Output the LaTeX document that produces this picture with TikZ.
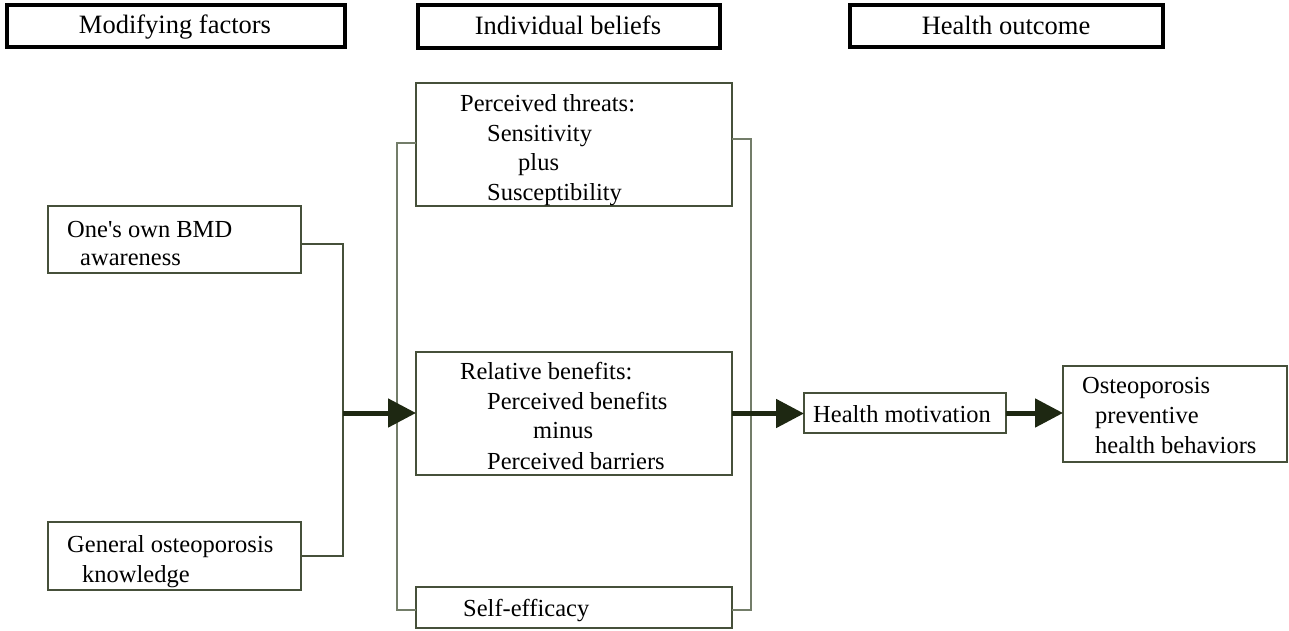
\documentclass[tikz,border=0pt]{standalone}
\usepackage{fontspec}
\setmainfont{Liberation Serif}
\usetikzlibrary{arrows.meta,calc}
\definecolor{boxcol}{RGB}{70,80,58}
\definecolor{brkcol}{RGB}{115,125,105}
\definecolor{arrcol}{RGB}{30,40,18}
\tikzset{
  hdr/.style={draw=black, line width=3.5pt, inner sep=0pt, outer sep=0pt, anchor=north west},
  hdrtxt/.style={inner sep=0pt, anchor=base, font=\fontsize{26.5}{30}\selectfont},
  bx/.style={draw=boxcol, line width=1.5pt, inner sep=0pt, outer sep=0pt, anchor=north west},
  txt/.style={inner sep=0pt, anchor=base west, font=\fontsize{24.5}{28}\selectfont},
  conn/.style={draw=boxcol, line width=1.5pt},
  brk/.style={draw=brkcol, line width=1.5pt},
  arr/.style={draw=arrcol, line width=5pt, -{Triangle[length=28pt,width=28pt]}, color=arrcol}
}
\begin{document}
\begin{tikzpicture}[x=1pt,y=-1pt]
\useasboundingbox (0,0) rectangle (1289,630);
% headers
\node[hdr, minimum width=338pt, minimum height=42pt] (hmf) at (7,5) {};
\node[hdrtxt] (hmft) at (175,33) {Modifying factors};
\node[hdr, minimum width=302pt, minimum height=43pt] (hib) at (418,5) {};
\node[hdrtxt] (hibt) at (568,34) {Individual beliefs};
\node[hdr, minimum width=313pt, minimum height=42pt] (hho) at (850,5) {};
\node[hdrtxt] (hhot) at (1006,34) {Health outcome};
% boxes
\node[bx, minimum width=316pt, minimum height=123pt] (pt) at (416,83) {};
\node[bx, minimum width=316pt, minimum height=123pt] (rb) at (416,352) {};
\node[bx, minimum width=316pt, minimum height=41pt] (se) at (416,587) {};
\node[bx, minimum width=253pt, minimum height=67pt] (bmd) at (48,206) {};
\node[bx, minimum width=253pt, minimum height=68pt] (gen) at (48,522) {};
\node[bx, minimum width=202pt, minimum height=40pt] (hm) at (804,393) {};
\node[bx, minimum width=224pt, minimum height=96pt] (os) at (1063,366) {};
% texts
\node[txt] (pt1) at (460,111) {Perceived threats:};
\node[txt] (pt2) at (487,141) {Sensitivity};
\node[txt] (pt3) at (518,170) {plus};
\node[txt] (pt4) at (487,200) {Susceptibility};
\node[txt] (rb1) at (460,379) {Relative benefits:};
\node[txt] (rb2) at (487,409) {Perceived benefits};
\node[txt] (rb3) at (533,438) {minus};
\node[txt] (rb4) at (487,469) {Perceived barriers};
\node[txt] (se1) at (463,616) {Self-efficacy};
\node[txt] (bmd1) at (67,237) {One\textquotesingle s own BMD};
\node[txt] (bmd2) at (80,265) {awareness};
\node[txt] (gen1) at (67,552) {General osteoporosis};
\node[txt] (gen2) at (82,582) {knowledge};
\node[txt] (hm1) at (813,422) {Health motivation};
\node[txt] (os1) at (1082,393) {Osteoporosis};
\node[txt] (os2) at (1095,423) {preventive};
\node[txt] (os3) at (1095,453) {health behaviors};
% connectors
\coordinate (mj) at (343,413);
\draw[conn] ([yshift=-4.5pt]bmd.east) -- ++(42,0) |- (gen.east);
\draw[brk] ([yshift=1.5pt]pt.west) -- ++(-19,0) |- ([yshift=-2.5pt]se.west);
\draw[brk] ([yshift=5.5pt]pt.east) -- ++(19,0) |- ([yshift=-2.5pt]se.east);
\draw[arr] (mj) -- (mj -| rb.west);
\draw[arr] (rb.east) -- (rb.east -| hm.west);
\draw[arr] (hm.east) -- (hm.east -| os.west);
\end{tikzpicture}
\end{document}
